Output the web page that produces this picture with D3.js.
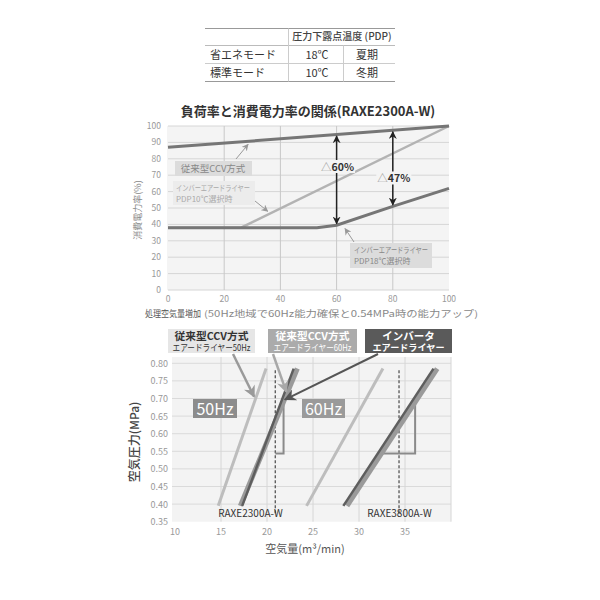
<!DOCTYPE html>
<html><head><meta charset="utf-8">
<script src="https://cdn.jsdelivr.net/npm/d3@7"></script>
<style>
body{margin:0;background:#fff}
text{font-family:"Noto Sans CJK JP","Noto Sans",sans-serif}
</style>
</head><body>
<svg id="c" width="600" height="600"></svg>
<script>
// ---------- Table data ----------
const tableHeader = "圧力下露点温度 (PDP)";
const tableModes = ["省エネモード", "標準モード"];
const tablePDP = ["18℃", "10℃"];
const tableSeason = ["夏期", "冬期"];

// ---------- Top chart data ----------
const topTitle = "負荷率と消費電力率の関係(RAXE2300A-W)";
const loadTicks = [0, 20, 40, 60, 80, 100];
const powerTicks = [0, 10, 20, 30, 40, 50, 60, 70, 80, 90, 100];
const ccvLoad = [0, 100];
const ccvPower = [87, 100];
const inv10Load = [0, 26, 100];
const inv10Power = [38, 38, 100];
const inv18Load = [0, 53, 60, 80, 100];
const inv18Power = [38, 38, 39.5, 51, 62];
const savingLoad = [60, 80];
const savingText = ["60%", "47%"];
const savingLabelPower = [75, 68];

// ---------- Bottom chart data ----------
const flowTicks = [10, 15, 20, 25, 30, 35];
const flowGrid = [15, 20, 25, 30, 35, 40];
const pressureTicks = [0.35, 0.40, 0.45, 0.50, 0.55, 0.60, 0.65, 0.70, 0.75, 0.80];
const models = ["RAXE2300A-W", "RAXE3800A-W"];
const modelLabelFlow = [18.2, 34.4];
const ccv50Flow = [[14.7, 19.9], [24.3, 32.6]];
const ccv60Flow = [[17.1, 23.3], [28.7, 38.5]];
const invFlow = [[17.3, 22.9], [28.3, 38.1]];
const linePressure = [0.395, 0.785];
const ratedFlow = [20.9, 34.35];
const ratedPressure = [0.37, 0.78];
const stepFlow = [[20.9, 21.8, 21.8], [32.3, 36.1, 36.1]];
const stepPressure = [0.544, 0.544, 0.688];

const svg = d3.select("#c");
const defs = svg.append("defs");
function marker(id, color, w, h) {
  defs.append("marker").attr("id", id).attr("viewBox", "0 0 10 10")
    .attr("refX", 9).attr("refY", 5).attr("markerUnits", "userSpaceOnUse")
    .attr("markerWidth", w).attr("markerHeight", h).attr("orient", "auto-start-reverse")
    .append("path").attr("d", "M0,0 L10,5 L0,10 L3,5 Z").attr("fill", color);
}
marker("mBlack", "#222", 8, 8);
marker("mGray", "#999", 7, 7);
marker("mG1", "#9a9a9a", 13, 12);
marker("mG2", "#a8a8a8", 13, 12);
marker("mG3", "#555", 13, 12);

// ---------- Table ----------
const tb = svg.append("g");
tb.append("line").attr("x1", 205).attr("x2", 395).attr("y1", 28.5).attr("y2", 28.5).attr("stroke", "#999");
tb.append("line").attr("x1", 205).attr("x2", 395).attr("y1", 45.5).attr("y2", 45.5).attr("stroke", "#bbb");
tb.append("line").attr("x1", 205).attr("x2", 395).attr("y1", 63.5).attr("y2", 63.5).attr("stroke", "#ccc");
tb.append("line").attr("x1", 205).attr("x2", 395).attr("y1", 81.5).attr("y2", 81.5).attr("stroke", "#999");
tb.append("line").attr("x1", 288.5).attr("x2", 288.5).attr("y1", 28.5).attr("y2", 81.5).attr("stroke", "#ccc");
tb.append("line").attr("x1", 343.5).attr("x2", 343.5).attr("y1", 45.5).attr("y2", 81.5).attr("stroke", "#ccc");
tb.append("text").attr("x", 342).attr("y", 40).attr("text-anchor", "middle")
  .attr("font-size", 10).attr("font-weight", 500).attr("fill", "#444").text(tableHeader);
tableModes.forEach((m, i) => {
  const yb = 59 + i * 18;
  tb.append("text").attr("x", 210).attr("y", yb).attr("font-size", 11).attr("fill", "#333").text(m);
  tb.append("text").attr("x", 317).attr("y", yb).attr("text-anchor", "middle").attr("font-size", 11).attr("fill", "#333").text(tablePDP[i]);
  tb.append("text").attr("x", 367).attr("y", yb).attr("text-anchor", "middle").attr("font-size", 11).attr("fill", "#333").text(tableSeason[i]);
});

// ---------- Top chart ----------
const x1 = d3.scaleLinear().domain([0, 100]).range([168, 449]);
const y1 = d3.scaleLinear().domain([0, 100]).range([290, 126]);
const g1 = svg.append("g");
g1.append("text").attr("x", 308).attr("y", 116).attr("text-anchor", "middle")
  .attr("font-size", 13).attr("font-weight", "bold").attr("fill", "#333").text(topTitle);
g1.append("rect").attr("x", x1(0) - 1).attr("y", y1(100)).attr("width", x1(100) - x1(0) + 1)
  .attr("height", y1(0) - y1(100)).attr("fill", "#f4f4f4");
g1.selectAll(".hg").data(powerTicks).enter().append("line")
  .attr("x1", x1(0)).attr("x2", x1(100)).attr("y1", d => y1(d)).attr("y2", d => y1(d))
  .attr("stroke", "#d6d6d6").attr("stroke-width", 1);
g1.selectAll(".vg").data(loadTicks.slice(1, -1)).enter().append("line")
  .attr("x1", d => x1(d)).attr("x2", d => x1(d)).attr("y1", y1(100)).attr("y2", y1(0))
  .attr("stroke", "#c8c8c8").attr("stroke-width", 1);
g1.selectAll(".yl").data(powerTicks).enter().append("text")
  .attr("x", 161).attr("y", d => y1(d) + 3).attr("text-anchor", "end")
  .attr("font-size", 8.5).attr("fill", "#999").text(d => d);
g1.selectAll(".xl").data(loadTicks).enter().append("text")
  .attr("x", d => x1(d)).attr("y", 302).attr("text-anchor", "middle")
  .attr("font-size", 8.5).attr("fill", "#999").text(d => d);
g1.append("text").attr("transform", "translate(141,210) rotate(-90)").attr("text-anchor", "middle")
  .attr("font-size", 9).attr("fill", "#888").text("消費電力率(%)");
g1.append("text").attr("x", 145).attr("y", 317).attr("font-size", 9).attr("fill", "#555")
  .attr("textLength", 56).attr("lengthAdjust", "spacingAndGlyphs").text("処理空気量増加");
g1.append("text").attr("x", 204).attr("y", 317).attr("font-size", 9).attr("fill", "#888")
  .attr("textLength", 274).attr("lengthAdjust", "spacingAndGlyphs").text("(50Hz地域で60Hz能力確保と0.54MPa時の能力アップ)");

const line1 = d3.line().x(d => x1(d[0])).y(d => y1(d[1]));
g1.append("path").attr("d", line1(d3.zip(inv10Load, inv10Power))).attr("fill", "none")
  .attr("stroke", "#b3b3b3").attr("stroke-width", 2.5);
g1.append("path").attr("d", line1(d3.zip(ccvLoad, ccvPower))).attr("fill", "none")
  .attr("stroke", "#767676").attr("stroke-width", 3);
g1.append("path").attr("d", line1(d3.zip(inv18Load, inv18Power))).attr("fill", "none")
  .attr("stroke", "#767676").attr("stroke-width", 3);

const ccvAt = d3.scaleLinear().domain(ccvLoad).range(ccvPower);
const inv18At = d3.scaleLinear().domain(inv18Load).range(inv18Power);
savingLoad.forEach((L, i) => {
  g1.append("line").attr("x1", x1(L)).attr("x2", x1(L)).attr("y1", y1(ccvAt(L)) + 1.5)
    .attr("y2", y1(inv18At(L)) - 1.5).attr("stroke", "#222").attr("stroke-width", 1.5)
    .attr("marker-start", "url(#mBlack)").attr("marker-end", "url(#mBlack)");
  const t = g1.append("text").attr("x", x1(L) + 1).attr("y", y1(savingLabelPower[i]) + 4)
    .attr("text-anchor", "middle").attr("font-size", 10.5).attr("font-weight", "bold");
  t.append("tspan").attr("fill", "#999").attr("font-weight", "normal").text("△");
  t.append("tspan").attr("fill", "#333").text(savingText[i]);
  const bb = t.node().getBBox();
  g1.insert("rect", () => t.node()).attr("x", bb.x - 1).attr("y", bb.y + 1).attr("width", bb.width + 2)
    .attr("height", bb.height - 2).attr("fill", "#f4f4f4");
});

// annotation boxes top chart
function callout(g, fromX, fromY, toX, toY) {
  g.append("line").attr("x1", fromX).attr("y1", fromY).attr("x2", toX).attr("y2", toY)
    .attr("stroke", "#999").attr("stroke-width", 1).attr("marker-end", "url(#mGray)");
}
g1.append("rect").attr("x", 175).attr("y", 161).attr("width", 77).attr("height", 15).attr("fill", "#dcdcdc");
g1.append("text").attr("x", 213).attr("y", 172).attr("text-anchor", "middle").attr("font-size", 9.5)
  .attr("fill", "#888").text("従来型CCV方式");
callout(g1, 236, 159, x1(28.5), y1(88.8));
g1.append("rect").attr("x", 173).attr("y", 181).attr("width", 82).attr("height", 24).attr("fill", "#ececec");
g1.append("text").attr("x", 176).attr("y", 191).attr("font-size", 8).attr("fill", "#aaa")
  .attr("textLength", 74).attr("lengthAdjust", "spacingAndGlyphs").text("インバーエアードライヤー");
g1.append("text").attr("x", 176).attr("y", 202).attr("font-size", 8).attr("fill", "#aaa").text("PDP10℃選択時");
callout(g1, 255, 201, x1(35.5), y1(48));
g1.append("rect").attr("x", 350).attr("y", 243).attr("width", 82).attr("height", 25).attr("fill", "#dcdcdc");
g1.append("text").attr("x", 354).attr("y", 253).attr("font-size", 8).attr("fill", "#888")
  .attr("textLength", 74).attr("lengthAdjust", "spacingAndGlyphs").text("インバーエアードライヤー");
g1.append("text").attr("x", 354).attr("y", 264).attr("font-size", 8).attr("fill", "#888").text("PDP18℃選択時");
callout(g1, 354, 242, x1(63), y1(37.5));

// ---------- Bottom chart ----------
const x2 = d3.scaleLinear().domain([10, 40]).range([175, 451]);
const y2 = d3.scaleLinear().domain([0.35, 0.80]).range([521.7, 363.3]);
const g2 = svg.append("g");
g2.append("rect").attr("x", x2(10) - 3).attr("y", y2(0.818)).attr("width", x2(40) - x2(10) + 3)
  .attr("height", y2(0.35) - y2(0.818)).attr("fill", "#f3f3f3");
g2.selectAll(".hg").data(pressureTicks.slice(1)).enter().append("line")
  .attr("x1", x2(10) - 3).attr("x2", x2(40)).attr("y1", d => y2(d)).attr("y2", d => y2(d))
  .attr("stroke", "#dadada");
g2.selectAll(".vg").data(flowGrid).enter().append("line")
  .attr("x1", d => x2(d)).attr("x2", d => x2(d)).attr("y1", y2(0.818)).attr("y2", y2(0.35))
  .attr("stroke", "#d6d6d6");
g2.selectAll(".yl").data(pressureTicks).enter().append("text")
  .attr("x", 168).attr("y", d => y2(d) + 3.5).attr("text-anchor", "end")
  .attr("font-size", 9).attr("fill", "#999").text(d => d.toFixed(2));
g2.selectAll(".xl").data(flowTicks).enter().append("text")
  .attr("x", d => x2(d)).attr("y", 535).attr("text-anchor", "middle")
  .attr("font-size", 9).attr("fill", "#999").text(d => d);
g2.append("text").attr("transform", "translate(139,442) rotate(-90)").attr("text-anchor", "middle")
  .attr("font-size", 12).attr("font-weight", 500).attr("fill", "#444").text("空気圧力(MPa)");
g2.append("text").attr("x", 305).attr("y", 553).attr("text-anchor", "middle")
  .attr("font-size", 11).attr("fill", "#555").text("空気量(m³/min)");

const line2 = d3.line().x(d => x2(d[0])).y(d => y2(d[1]));
// dashed rated flow lines
ratedFlow.forEach(f => {
  g2.append("line").attr("x1", x2(f)).attr("x2", x2(f)).attr("y1", y2(ratedPressure[1])).attr("y2", y2(ratedPressure[0]))
    .attr("stroke", "#555").attr("stroke-width", 1.3).attr("stroke-dasharray", "3,2");
});
models.forEach((m, i) => {
  g2.append("path").attr("d", line2(d3.zip(ccv50Flow[i], linePressure))).attr("fill", "none")
    .attr("stroke", "#bdbdbd").attr("stroke-width", 3);
  g2.append("path").attr("d", line2(d3.zip(stepFlow[i], stepPressure))).attr("fill", "none")
    .attr("stroke", "#8a8a8a").attr("stroke-width", 2);
  g2.append("path").attr("d", line2(d3.zip(ccv60Flow[i], linePressure))).attr("fill", "none")
    .attr("stroke", "#9a9a9a").attr("stroke-width", 5);
  g2.append("path").attr("d", line2(d3.zip(invFlow[i], linePressure))).attr("fill", "none")
    .attr("stroke", "#5e5e5e").attr("stroke-width", 2.5);
  g2.append("text").attr("x", x2(modelLabelFlow[i])).attr("y", 517).attr("text-anchor", "middle")
    .attr("font-size", 10).attr("fill", "#333").text(m);
});

// 50Hz / 60Hz tags
[["50Hz", 193, 44, "#8c8c8c"], ["60Hz", 302, 43, "#9a9a9a"]].forEach(([t, x, w, c]) => {
  g2.append("rect").attr("x", x).attr("y", 399).attr("width", w).attr("height", 19).attr("fill", c);
  g2.append("text").attr("x", x + w / 2).attr("y", 414.5).attr("text-anchor", "middle")
    .attr("font-size", 16).attr("fill", "#fff").text(t);
});

// legend boxes
const legends = [
  {x: 168, w: 87, fill: "#e6e6e6", color: "#333", l1: "従来型CCV方式", l2: "エアードライヤー50Hz", b2: false, tl1: 74, tl2: 78},
  {x: 268, w: 89, fill: "#ababab", color: "#fff", l1: "従来型CCV方式", l2: "エアードライヤー60Hz", b2: false, tl1: 74, tl2: 78},
  {x: 365, w: 87, fill: "#5a5a5a", color: "#fff", l1: "インバータ", l2: "エアードライヤー", b2: true, tl1: null, tl2: 72}
];
legends.forEach(L => {
  g2.append("rect").attr("x", L.x).attr("y", 329).attr("width", L.w).attr("height", 24).attr("fill", L.fill);
  const t1 = g2.append("text").attr("x", L.x + L.w / 2).attr("y", 339.5).attr("text-anchor", "middle")
    .attr("font-size", 10.5).attr("font-weight", "bold").attr("fill", L.color).text(L.l1);
  if (L.tl1) t1.attr("textLength", L.tl1).attr("lengthAdjust", "spacingAndGlyphs");
  g2.append("text").attr("x", L.x + L.w / 2).attr("y", 351).attr("text-anchor", "middle")
    .attr("font-size", 9).attr("font-weight", L.b2 ? "bold" : "normal").attr("fill", L.color)
    .attr("textLength", L.tl2).attr("lengthAdjust", "spacingAndGlyphs").text(L.l2);
});
// legend arrows
[[233, 354, 18.6, 0.705, "#9a9a9a", "mG1", 2.5],
 [273, 354, 22.1, 0.719, "#a8a8a8", "mG2", 2.5],
 [378, 354, 21.95, 0.697, "#555", "mG3", 2]].forEach(([fx, fy, tf, tp, c, mk, w]) => {
  g2.append("line").attr("x1", fx).attr("y1", fy).attr("x2", x2(tf)).attr("y2", y2(tp))
    .attr("stroke", c).attr("stroke-width", w).attr("marker-end", `url(#${mk})`);
});
</script>
</body></html>
